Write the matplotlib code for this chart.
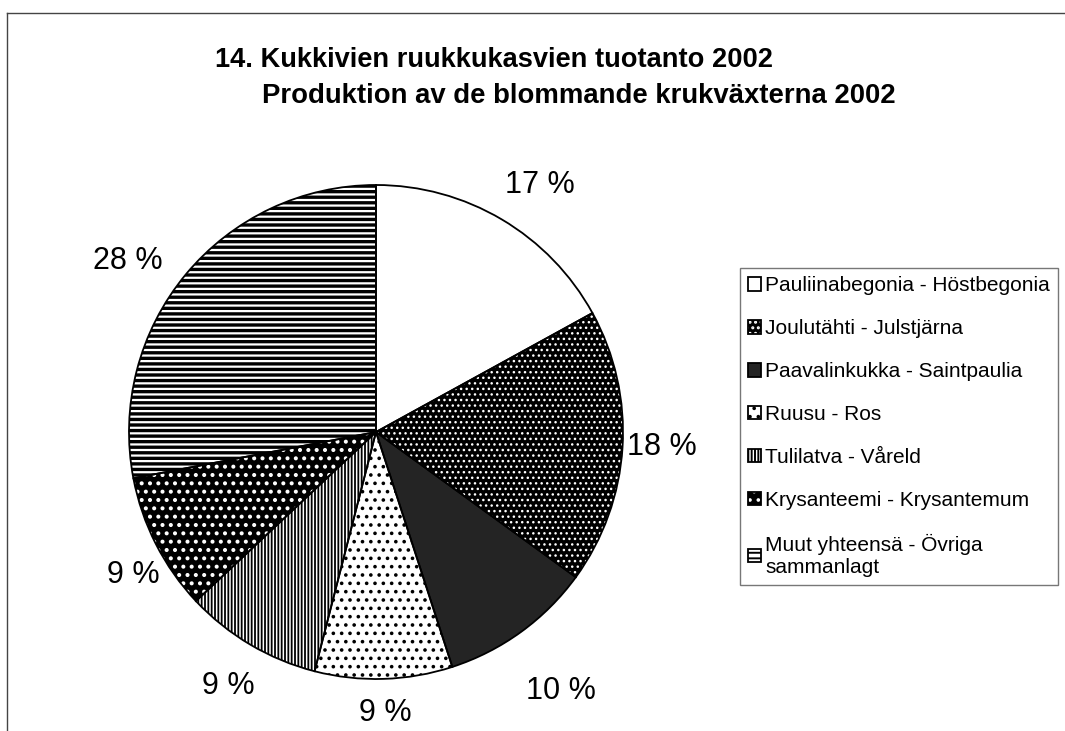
import matplotlib
matplotlib.use('Agg')
import numpy as np
import matplotlib.pyplot as plt
from matplotlib.lines import Line2D
from matplotlib.legend_handler import HandlerTuple

plt.rcParams['font.family'] = ['Liberation Sans', 'DejaVu Sans']
plt.rcParams['hatch.linewidth'] = 1.4

# data
labels = ['Pauliinabegonia - Höstbegonia', 'Joulutähti - Julstjärna',
          'Paavalinkukka - Saintpaulia', 'Ruusu - Ros', 'Tulilatva - Våreld',
          'Krysanteemi - Krysantemum', 'Muut yhteensä - Övriga\nsammanlagt']
shares = [17, 18, 10, 9, 9, 9, 28]
pct_labels = ['17 %', '18 %', '10 %', '9 %', '9 %', '9 %', '28 %']

# fills: face colour, hatch, hatch colour, hatch width
faces = ['white', 'black', '#242424', 'white', 'white', 'black', 'white']
hatches = ['', '...', '', '..', '|||||', '..', '---']
hatch_cols = ['black', 'white', '#242424', 'black', 'black', 'white', 'black']
hatch_lw = [1.0, 1.0, 1.0, 1.4, 1.3, 1.7, 2.4]
# label placement: radial distance, angle nudge (deg)
label_dist = [1.20, 1.16, 1.29, 1.14, 1.19, 1.14, 1.22]
label_nudge = [-3, 0.6, -0.5, 0, 0.4, 3.5, 5]

fig = plt.figure(figsize=(10.65, 7.31), dpi=100)
W, H = 1065, 731
cx, cy, r = 376, 432, 247
ax = fig.add_axes([(cx - r) / W, (H - cy - r) / H, 2 * r / W, 2 * r / H])

fill_wedges, _ = ax.pie(shares, startangle=90, counterclock=False, radius=1,
                        wedgeprops=dict(linewidth=0))
for w, fc, h, hc, hl in zip(fill_wedges, faces, hatches, hatch_cols, hatch_lw):
    w.set_facecolor(fc)
    w.set_hatch(h)
    w.set_edgecolor(hc)
    if hasattr(w, 'set_hatch_linewidth'):
        w.set_hatch_linewidth(hl)

edge_wedges, texts = ax.pie(shares, startangle=90, counterclock=False, radius=1,
                            labels=pct_labels, labeldistance=1.2,
                            wedgeprops=dict(facecolor='none', edgecolor='black',
                                            linewidth=1.3),
                            textprops=dict(fontsize=22))
for t, w, d, n in zip(texts, edge_wedges, label_dist, label_nudge):
    ang = np.deg2rad((w.theta1 + w.theta2) / 2 + n)
    t.set_position((d * np.cos(ang), d * np.sin(ang)))
    t.set_ha('center')
    t.set_va('center')

ax.set_xlim(-1, 1)
ax.set_ylim(-1, 1)
ax.set_aspect('equal')
ax.axis('off')

handles = [(f, e) for f, e in zip(fill_wedges, edge_wedges)]
leg = fig.legend(handles, labels, loc='upper left',
                 bbox_to_anchor=(740 / W, 1 - 268 / H),
                 handler_map={tuple: HandlerTuple(ndivide=1, pad=0)},
                 handlelength=0.6, handleheight=0.6, handletextpad=0.2,
                 labelspacing=1.15, fontsize=15, frameon=True,
                 fancybox=False, edgecolor='#555555', borderpad=0.4,
                 borderaxespad=0)
leg.get_frame().set_linewidth(1.0)

fig.text(215 / W, 1 - 60 / H, '14. Kukkivien ruukkukasvien tuotanto 2002',
         fontsize=19.6, fontweight='bold', va='center', ha='left')
fig.text(262 / W, 1 - 96 / H, 'Produktion av de blommande krukväxterna 2002',
         fontsize=19.8, fontweight='bold', va='center', ha='left')

# page frame
fig.add_artist(Line2D([7 / W, 1], [1 - 13 / H, 1 - 13 / H], color='#444444', lw=1))
fig.add_artist(Line2D([7 / W, 7 / W], [0, 1 - 13 / H], color='#444444', lw=1))

fig.savefig('out.png', dpi=100)
